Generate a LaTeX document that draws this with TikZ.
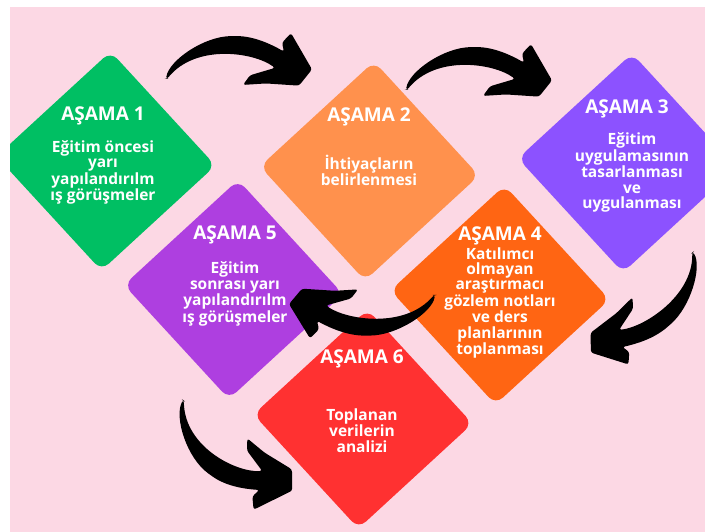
\documentclass[tikz,border=0pt]{standalone}
\usepackage{fontspec}
\setmainfont{Open Sans}
\usepackage{xcolor}
\usepackage{tikz}

\definecolor{pinkbg}{HTML}{FCD8E4}
\definecolor{asamagreen}{HTML}{00BF63}
\definecolor{asamaorange}{HTML}{FF914D}
\definecolor{asamaviolet}{HTML}{8C52FF}
\definecolor{asamaamber}{HTML}{FF6513}
\definecolor{asamapurple}{HTML}{AE3FE0}
\definecolor{asamared}{HTML}{FF3131}

\begin{document}
\begin{tikzpicture}[
        x=1pt, y=1pt,
        asama/.style={rectangle, rounded corners=10pt, minimum size=155pt, inner sep=0pt, rotate=42.6},
        baslik/.style={text=white, font=\bfseries\fontsize{19}{19}\selectfont, inner sep=0pt},
        metin/.style={text=white, align=center, font=\bfseries\fontsize{15.5}{15.3}\selectfont, inner sep=0pt},
        brush/.pic={
            \fill[black, rounded corners=2.5pt] (0,0) .. controls (3,25) and (38,58) .. (68,58)
                .. controls (88,58) and (105,47) .. (118,37)
                -- (116,49) -- (125,62) -- (146,13) -- (133,-9) -- (100,-6) -- (77,-8)
                -- (84,5) -- (109,15)
                .. controls (88,36) and (30,48) .. (1,0) -- cycle;
        }
        ]

        % Background
        \useasboundingbox (0,0) rectangle (705,532);
        \fill[white] (0,0) rectangle (705,532);
        \fill[pinkbg] (10,0) rectangle (705,525);

        \begin{scope}
        \clip (10,0) rectangle (705,525);

        % Stages
        \foreach \n/\x/\y/\c in {1/106/371/asamagreen, 2/369.5/361/asamaorange, 3/627.5/369/asamaviolet,
                                 4/500/237/asamaamber, 5/233.5/242.5/asamapurple, 6/363/113/asamared}
            \node[asama, fill=\c] (s\n) at (\x,\y) {};

        % Stage titles
        \foreach \n/\x/\y in {1/103/416, 2/369/415, 3/627/423, 4/500/296, 5/235/297, 6/362/173}
            \node[baslik] (h\n) at (\x,\y) {AŞAMA \n};

        % Stage texts
        \node[metin] (b1) at (103,359.5) {Eğitim öncesi\\yarı\\yapılandırılm\\ış görüşmeler};
        \node[metin] (b2) at (369,361.5) {İhtiyaçların\\belirlenmesi};
        \node[metin] (b3) at (632,359.5) {Eğitim\\uygulamasının\\tasarlanması\\ve\\uygulanması};
        \node[metin] (b4) at (500,229) {Katılımcı\\olmayan\\araştırmacı\\gözlem notları\\ve ders\\planlarının\\toplanması};
        \node[metin] (b5) at (235,238) {Eğitim\\sonrası yarı\\yapılandırılm\\ış görüşmeler};
        \node[metin] (b6) at (362,101.5) {Toplanan\\verilerin\\analizi};

        % Arrows
        \coordinate (a12) at (166,453);
        \coordinate (a23) at (406,442);
        \coordinate (a34) at (693,280);
        \coordinate (a45) at (435,237);
        \coordinate (a56) at (183,132);

        \pic[yscale=0.74] at (a12) {brush};
        \pic[yscale=0.74] at (a23) {brush};
        \pic[rotate=221, scale=0.98, yscale=0.7] at (a34) {brush};
        \pic[rotate=180, yscale=0.7] at (a45) {brush};
        \pic[rotate=-35.6, scale=0.97, yscale=-0.8] at (a56) {brush};
        \end{scope}

    \end{tikzpicture}
\end{document}
